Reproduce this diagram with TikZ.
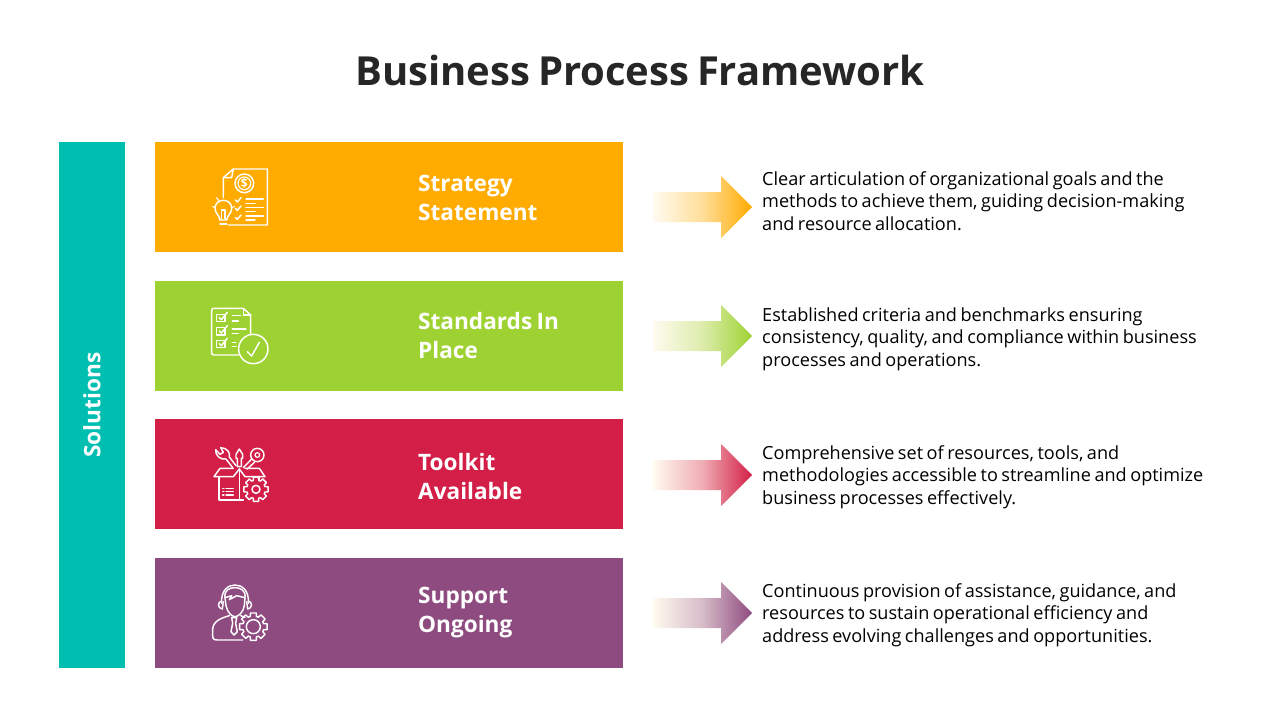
\documentclass[tikz,border=0pt]{standalone}
\usepackage{fontspec}
\setmainfont[WordSpace=0.75]{Open Sans}
\definecolor{cteal}{HTML}{00BFB0}
\definecolor{corange}{HTML}{FFAB00}
\definecolor{cgreen}{HTML}{9ED232}
\definecolor{cred}{HTML}{D31F47}
\definecolor{cpurple}{HTML}{8E4B80}
\definecolor{cink}{HTML}{262626}
\definecolor{cstart}{HTML}{FFFBF0}
\tikzset{
 bar/.style={draw=none,inner sep=0,minimum width=468pt,minimum height=110pt,anchor=north west},
 lab/.style={anchor=west,align=left,text=white,inner sep=0,font=\fontsize{22.6}{29}\selectfont\bfseries},
 desc/.style={anchor=west,align=left,text=black,inner sep=0,font=\fontsize{18.1}{22.4}\selectfont},
 ico/.style={draw=white,line width=1.45pt,line cap=round,line join=round},
 fino/.style={draw=white,line width=1.2pt,line cap=round,line join=round}
}
\newcommand{\arrowshape}[2]{\shade[left color=cstart,right color=#1,middle color=#1!36!cstart] (653,#2-15) -- (721,#2-15) -- (721,#2-31) -- (752,#2) -- (721,#2+31) -- (721,#2+15) -- (653,#2+15) -- cycle;}
\newcommand{\gearshape}[5]{\draw[ico] ([shift={(#1,#2)}]-12:#3) \foreach \a in {0,45,...,315}{ -- ([shift={(#1,#2)}]\a-12:#3) -- ([shift={(#1,#2)}]\a+12:#3) -- ([shift={(#1,#2)}]\a+17:#4) -- ([shift={(#1,#2)}]\a+28:#4)} -- cycle;
 \draw[ico] (#1,#2) circle[radius=#5];}
\begin{document}
\begin{tikzpicture}[x=1pt,y=-1pt]
\useasboundingbox (0,0) rectangle (1280,720);
\fill[white] (0,0) rectangle (1280,720);
\node[font=\fontsize{40}{50}\selectfont\bfseries,text=cink,inner sep=0] (title) at (640,70) {Business Process Framework};
\node[fill=cteal,inner sep=0,minimum width=66pt,minimum height=526pt,anchor=north west] (side) at (59,142) {};
\node[rotate=90,text=white,inner sep=0,font=\fontsize{22.6}{29}\selectfont\bfseries] (sidelab) at (92,405) {Solutions};
\node[bar,fill=corange] (b1) at (155,142) {};
\node[bar,fill=cgreen] (b2) at (155,281) {};
\node[bar,fill=cred] (b3) at (155,419) {};
\node[bar,fill=cpurple] (b4) at (155,558) {};
\node[lab] (l1) at (418,198) {Strategy\\Statement};
\node[lab] (l2) at (418,336) {Standards In\\Place};
\node[lab] (l3) at (418,477) {Toolkit\\Available};
\node[lab] (l4) at (418,613) {Support\\Ongoing};
\arrowshape{corange}{207}
\arrowshape{cgreen}{336}
\arrowshape{cred}{475}
\arrowshape{cpurple}{613}
\node[desc] (d1) at (762,201) {Clear articulation of organizational goals and the\\methods to achieve them, guiding decision-making\\and resource allocation.};
\node[desc] (d2) at (762,339) {Established criteria and benchmarks ensuring\\consistency, quality, and compliance within business\\processes and operations.};
\node[desc] (d3) at (762,477) {Comprehensive set of resources, tools, and\\methodologies accessible to streamline and optimize\\business processes effectively.};
\node[desc] (d4) at (762,615) {Continuous provision of assistance, guidance, and\\resources to sustain operational efficiency and\\address evolving challenges and opportunities.};
% icon 1
\begin{scope}[shift={(200,155)},x=1/3*1pt,y=-1/3*1pt]
\draw[ico] (70,120) -- (70,68) -- (100,42) -- (202,42) -- (202,210) -- (85,210);
\draw[ico] (70,68) -- (95,68) -- (100,42);
\draw[ico] (133,85) circle[radius=28];
\draw[fino] (133,85) circle[radius=19];
\node[text=white,inner sep=0,font=\fontsize{12}{12}\selectfont\bfseries] (dollar) at (133,85) {\$};
\foreach \y in {135,160,187}{\draw[ico] (106,\y) -- (112,\y+6) -- (123,\y-7);}
\foreach \y/\e in {132/190,145/165,157/190,170/165,183/190,195/165}{\draw[fino] (138,\y) -- (\e,\y);}
\draw[ico] (60,195) .. controls (58,180) and (45,175) .. (45,160) .. controls (45,128) and (95,128) .. (95,160) .. controls (95,175) and (82,180) .. (80,195) -- cycle;
\draw[ico] (60,207) -- (80,207);
\draw[fino] (65,192) -- (65,165) -- (75,165) -- (75,192);
\draw[fino] (38,155) -- (46,157) (50,128) -- (55,136) (70,120) -- (70,128) (103,155) -- (95,157);
\end{scope}
% icon 2
\begin{scope}[shift={(200,295)},x=1/3*1pt,y=-1/3*1pt]
\draw[ico] (152,118) -- (152,60) -- (130,40) -- (42,40) .. controls (37,40) and (35,42) .. (35,47) -- (35,173) .. controls (35,178) and (37,180) .. (42,180) -- (115,180);
\draw[fino] (130,40) -- (130,60) -- (152,60);
\foreach \y in {58,98,136}{\draw[ico] (50,\y) rectangle (75,\y+22); \draw[ico] (58,\y+10) -- (64,\y+16) -- (82,\y-6);}
\foreach \y/\e in {62/122,78/115,102/138,116/115,142/108,155/108}{\draw[ico] (97,\y) -- (\e,\y);}
\draw[ico] (160,162) circle[radius=44];
\draw[ico] (142,170) -- (155,183) -- (178,142);
\end{scope}
% icon 3
\begin{scope}[shift={(200,435)},x=1/3*1pt,y=-1/3*1pt]
\draw[ico] (100,100) -- (60,100) -- (42,125) -- (100,125) -- (118,102) -- (135,125) -- (195,125) -- (178,100) -- (135,100);
\draw[ico] (57,125) -- (57,195) -- (130,195);
\draw[ico] (178,125) -- (178,133);
\draw[ico] (118,102) -- (118,195);
\foreach \y in {160,170,180}{\draw[fino] (68,\y) -- (72,\y); \draw[fino] (78,\y) -- (100,\y);}
\gearshape{168}{163}{37}{28}{12}
\draw[ico] (98,98) -- (78,72) .. controls (62,75) and (45,62) .. (47,44) -- (60,58) -- (70,52) -- (62,38) .. controls (82,38) and (92,55) .. (88,66) -- (108,92);
\draw[ico] (112,95) -- (112,70) -- (108,70) -- (108,58) -- (118,42) -- (128,58) -- (128,70) -- (124,70) -- (124,95) -- cycle;
\draw[ico] (172,60) circle[radius=20];
\draw[fino] (172,60) circle[radius=7];
\draw[ico] (155,72) -- (130,98) (166,79) -- (142,102);
\end{scope}
% icon 4
\begin{scope}[shift={(200,575)},x=1/3*1pt,y=-1/3*1pt]
\draw[ico] (75,68) -- (78,92) .. controls (82,112) and (95,125) .. (105,125) .. controls (115,125) and (130,112) .. (133,92) -- (135,68);
\draw[ico] (75,68) -- (95,62) -- (88,74) -- (110,62) -- (135,68) .. controls (138,45) and (120,38) .. (105,38) .. controls (88,38) and (72,45) .. (75,68);
\draw[ico] (65,85) .. controls (62,45) and (85,30) .. (105,30) .. controls (125,30) and (148,45) .. (145,85);
\draw[ico] (65,78) .. controls (52,80) and (52,100) .. (67,102) -- (70,80);
\draw[ico] (145,78) .. controls (158,80) and (158,100) .. (143,102) -- (140,80);
\draw[ico] (128,195) -- (52,195) .. controls (40,195) and (38,190) .. (38,180) -- (38,165) .. controls (38,140) and (60,130) .. (88,122);
\draw[ico] (95,128) -- (110,128) -- (107,145) -- (112,170) -- (102,180) -- (93,170) -- (98,145) -- cycle;
\draw[ico] (122,122) -- (135,127);
\gearshape{160}{155}{42}{32}{21}
\end{scope}
\end{tikzpicture}
\end{document}
